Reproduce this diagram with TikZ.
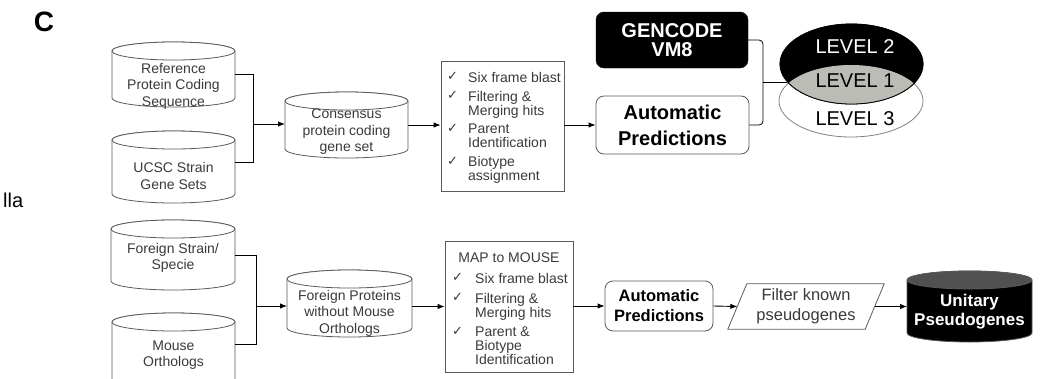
\documentclass[tikz,border=0pt]{standalone}
\usepackage{fontspec}
\setmainfont{Liberation Sans}
\newfontfamily\symfont{DejaVu Sans}
\usetikzlibrary{arrows.meta,shapes.geometric}
\definecolor{txt}{HTML}{3A3A3A}
\definecolor{edge}{HTML}{5A5A5A}
\definecolor{lvgray}{HTML}{BCBCB6}
\definecolor{capgray}{HTML}{505050}
\newcommand\ck[1]{\makebox[#1][l]{\raisebox{1.5pt}{\symfont\fontsize{13}{13}\selectfont ✓}}}
\newcommand\mkcyl[7]{%
 \node[inner sep=0pt, outer sep=0pt, minimum width={#3-#2}, minimum height={#5-#4}] (#1) at ({(#2+#3)/2},{-(#4+#5)/2}) {};
 \filldraw[cylline, fill=#6] ([yshift=-9pt]#1.north west) -- ([yshift=9pt]#1.south west)
   arc[start angle=180,end angle=360,x radius={(#3-#2)/2},y radius=9]
   -- ([yshift=-9pt]#1.north east)
   arc[start angle=0,end angle=180,x radius={(#3-#2)/2},y radius=9] -- cycle;
 \filldraw[cylline, fill=#7] ([yshift=-9pt]#1.north) ellipse[x radius={(#3-#2)/2}, y radius=9];
}
\tikzset{
 cylline/.style={draw=edge, line width=0.8pt},
 cyltext/.style={text=txt, font=\fontsize{14}{16.5}\selectfont, align=center, inner sep=0pt},
 listtext/.style={text=txt, font=\fontsize{14}{13}\selectfont, inner sep=0pt},
 listbox/.style={draw=edge, line width=0.8pt, inner sep=0pt},
 autobox/.style={draw=edge, line width=0.8pt, rounded corners=8pt, fill=white, align=center, inner sep=0pt},
 flow/.style={line width=0.9pt, -{Latex[length=7pt,width=5.5pt]}},
 link/.style={line width=0.8pt},
 lvtext/.style={font=\fontsize{20}{20}\selectfont, inner sep=0pt},
}
\begin{document}
\begin{tikzpicture}[x=1pt,y=1pt]
\useasboundingbox (0,0) rectangle (1055,-378);

% panel letter and cut-off text
\node[font=\bfseries\fontsize{28}{28}\selectfont] (lblC) at (44,-22) {C};
\node[font=\fontsize{20}{20}\selectfont, anchor=base west, inner sep=0pt] (lbll) at (3,-207) {lla};

% ---------- top row ----------
\mkcyl{ref}{112}{235}{42}{107}{white}{white}
\node[cyltext] (reft) at (173.5,-86) {Reference\\Protein Coding\\Sequence};
\mkcyl{ucsc}{112}{235}{131}{203}{white}{white}
\node[cyltext] (ucsct) at (173.5,-176) {UCSC Strain\\Gene Sets};
\mkcyl{cons}{285}{408}{92}{158}{white}{white}
\node[cyltext] (const) at (346.5,-132) {Consensus\\protein coding\\gene set};

\node[listbox, minimum width=123, minimum height=130] (chk1) at (502.5,-126) {};
\node[listtext, anchor=base west] (chk1t) at (447,-82) {\begin{tabular}[t]{@{}l@{}l@{}}
\ck{21pt} & Six frame blast\\[5pt]
\ck{21pt} & Filtering \&\\
 & Merging hits\\[5pt]
\ck{21pt} & Parent\\
 & Identification\\[5pt]
\ck{21pt} & Biotype\\
 & assignment
\end{tabular}};

\node[autobox, minimum width=153, minimum height=58, font=\bfseries\fontsize{20}{26}\selectfont] (autoA) at (672.5,-125) {Automatic\\Predictions};
\node[draw=black, fill=black, rounded corners=8pt, minimum width=152, minimum height=56, inner sep=0pt, text=white, align=center, font=\bfseries\fontsize{20}{19}\selectfont] (gen) at (672,-40) {GENCODE\\VM8};

% level ellipses
\node[ellipse, draw=gray, line width=0.8pt, fill=white, inner sep=0pt, minimum width=144, minimum height=72] (l3) at (851,-101) {};
\node[ellipse, draw=black, line width=0.8pt, fill=black, inner sep=0pt, minimum width=143, minimum height=80] (l2) at (851.5,-64) {};
\begin{scope}
 \clip (851.5,-64) ellipse[x radius=71.5, y radius=40];
 \fill[lvgray] (851,-101) ellipse[x radius=72, y radius=36];
\end{scope}
\draw[black, line width=0.8pt] (851.5,-64) ellipse[x radius=71.5, y radius=40];
\node[lvtext, text=white] (t2) at (855,-47) {LEVEL 2};
\node[lvtext] (t1) at (855,-81) {LEVEL 1};
\node[lvtext] (t3) at (855,-119) {LEVEL 3};

% connectors top
\coordinate (j1) at (253,-124);
\draw[link] (ref.east) -| (j1);
\draw[link] ([yshift=5pt]ucsc.east) -| (j1);
\draw[flow] (j1) -- (cons.west |- j1);
\draw[flow] (cons.east) -- (chk1.west |- cons.east);
\draw[flow] (chk1.east |- autoA.west) -- (autoA.west);
\coordinate (brk) at (763,-82);
\coordinate (lvj) at (787,-82);
\draw[link, rounded corners=4pt] (gen.east) -| (brk);
\draw[link, rounded corners=4pt] (autoA.east) -| (brk);
\draw[link] (brk) -- (lvj);

% ---------- bottom row ----------
\mkcyl{fore}{111}{235}{220}{290}{white}{white}
\node[cyltext] (foret) at (173,-258) {Foreign Strain/\\Specie};
\mkcyl{mouse}{112}{235}{313}{388}{white}{white}
\node[cyltext] (mouset) at (173.5,-355) {Mouse\\Orthologs};
\mkcyl{fprot}{287}{412}{270}{337}{white}{white}
\node[cyltext] (fprott) at (349.5,-313) {Foreign Proteins\\without Mouse\\Orthologs};

\node[listbox, minimum width=128, minimum height=131] (map) at (509,-306.5) {};
\node[listtext] (mapt) at (509,-258) {MAP to MOUSE};
\node[listtext, anchor=base west] (mapl) at (452,-283) {\begin{tabular}[t]{@{}l@{}l@{}}
\ck{23pt} & Six frame blast\\[6pt]
\ck{23pt} & Filtering \&\\
 & Merging hits\\[6pt]
\ck{23pt} & Parent \&\\
 & Biotype\\
 & Identification
\end{tabular}};

\node[autobox, minimum width=108, minimum height=50, font=\bfseries\fontsize{16.5}{20}\selectfont] (autoB) at (659,-306) {Automatic\\Predictions};

\node[inner sep=0pt, minimum width=137, minimum height=45, text=txt, align=center, font=\fontsize{16.5}{20}\selectfont] (filt) at (806,-306.5) {Filter known\\pseudogenes};
\draw[cylline] ([xshift=-9.5pt]filt.south west) -- ([xshift=9.5pt]filt.north west) -- ([xshift=9.5pt]filt.north east) -- ([xshift=-9.5pt]filt.south east) -- cycle;

\mkcyl{unit}{907}{1032}{271}{342}{black}{capgray}
\node[text=white, align=center, inner sep=0pt, font=\bfseries\fontsize{17}{19}\selectfont] (unitt) at (969.5,-311.5) {Unitary\\Pseudogenes};

% connectors bottom
\coordinate (j2) at (256,-306);
\draw[link] (fore.east) -| (j2);
\draw[link] ([yshift=6.5pt]mouse.east) -| (j2);
\draw[flow] (j2) -- (fprot.west |- j2);
\draw[flow] (fprot.east |- map.west) -- (map.west);
\draw[flow] (map.east |- autoB.west) -- (autoB.west);
\draw[flow] (autoB.east) -- (filt.west);
\draw[flow] (filt.east |- unit.west) -- (unit.west);
\end{tikzpicture}
\end{document}
